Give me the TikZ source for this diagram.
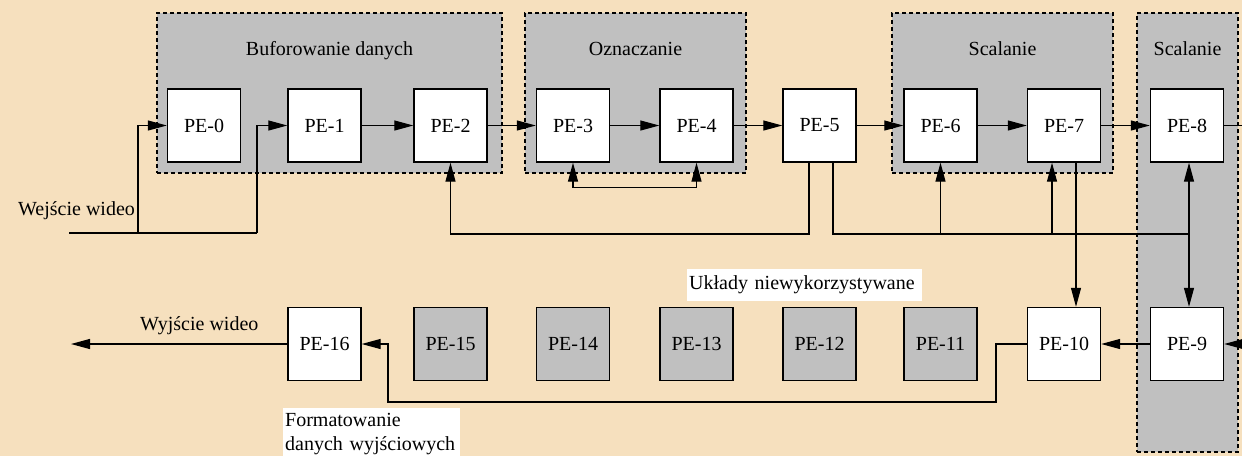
\documentclass[tikz,border=0pt]{standalone}
\usepackage{fontspec}
\setmainfont{Liberation Serif}
\usetikzlibrary{arrows.meta}
\definecolor{parch}{RGB}{246,224,190}
\definecolor{grp}{RGB}{192,192,192}
\tikzset{
  every node/.style={font=\fontsize{20}{24}\selectfont},
  pe/.style={draw=black, line width=1.4pt, fill=white, minimum size=73pt, inner sep=0pt},
  peu/.style={pe, fill=grp},
  grpbox/.style={draw=black, line width=1.4pt, dash pattern=on 4pt off 3pt, fill=grp, inner sep=0pt},
  ttl/.style={anchor=base, inner sep=0pt},
  lbl/.style={anchor=base west, inner sep=0pt},
  wlbl/.style={fill=white, anchor=north west, align=left, inner xsep=2pt},
  conn/.style={line width=1.2pt},
  arr/.style={conn, -{Triangle[length=19pt,width=10pt]}},
  darr/.style={conn, {Triangle[length=19pt,width=10pt]}-{Triangle[length=19pt,width=10pt]}}
}
\begin{document}
\begin{tikzpicture}[x=1pt,y=-1pt]
\useasboundingbox (0,0) rectangle (1242,456);
\fill[parch] (0,0) rectangle (1242,456);

% groups
\node[grpbox, minimum width=345pt, minimum height=160pt] (g1) at (329.5,93) {};
\node[grpbox, minimum width=221pt, minimum height=160pt] (g2) at (635.5,93) {};
\node[grpbox, minimum width=221pt, minimum height=160pt] (g3) at (1002.5,93) {};
\node[grpbox, minimum width=101pt, minimum height=439pt] (g4) at (1187.5,232.5) {};
\node[ttl] (t1) at (329.5,55) {Buforowanie danych};
\node[ttl] (t2) at (635.5,55) {Oznaczanie};
\node[ttl] (t3) at (1002.5,55) {Scalanie};
\node[ttl] (t4) at (1187.5,55) {Scalanie};

% processing elements
\node[pe] (p0) at (204,125.5) {PE-0};
\node[pe] (p1) at (324.5,125.5) {PE-1};
\node[pe] (p2) at (450.5,125.5) {PE-2};
\node[pe] (p3) at (573,125.5) {PE-3};
\node[pe] (p4) at (696.5,125.5) {PE-4};
\node[pe] (p5) at (819.5,125.5) {PE-5};
\node[pe] (p6) at (940.5,125.5) {PE-6};
\node[pe] (p7) at (1064,125.5) {PE-7};
\node[pe] (p8) at (1187,125.5) {PE-8};
\node[pe] (p9) at (1187,344) {PE-9};
\node[pe] (p10) at (1064,344) {PE-10};
\node[peu] (p11) at (940.5,344) {PE-11};
\node[peu] (p12) at (819.5,344) {PE-12};
\node[peu] (p13) at (696.5,344) {PE-13};
\node[peu] (p14) at (573,344) {PE-14};
\node[peu] (p15) at (450.5,344) {PE-15};
\node[pe] (p16) at (324.5,344) {PE-16};

% labels
\node[lbl] (lin) at (18,215) {Wejście wideo};
\node[lbl] (lout) at (140,330) {Wyjście wideo};
\node[wlbl, text width=231pt, inner ysep=3pt, text height=17pt, text depth=9pt] (lunused) at (687,269) {Układy niewykorzystywane};
\node[wlbl, text width=173pt, inner ysep=5pt, font=\fontsize{20}{24}\selectfont] (lfmt) at (283,408) {Formatowanie\\danych wyjściowych};

% coordinates
\coordinate (inL) at (69,233);
\coordinate (inA) at (138,233);
\coordinate (inB) at (257,233);
\coordinate (r5a) at (809,234);
\coordinate (r5b) at (833,234);
\coordinate (j8) at (1189,234);
\coordinate (b7) at (1052,234);
\coordinate (d7) at (1076,234);
\coordinate (t1c) at (996,402);
\coordinate (t2c) at (388,402);
\coordinate (out) at (71,344);
\coordinate (e8) at (1250,125.5);
\coordinate (e9) at (1250,344);

% connectors
\draw[conn] (inL) -- (inB);
\draw[arr] (inA) |- (p0.west);
\draw[arr] (inB) |- (p1.west);
\draw[arr] (p1) -- (p2);
\draw[arr] (p2) -- (p3);
\draw[arr] (p3) -- (p4);
\draw[arr] (p4) -- (p5);
\draw[arr] (p5) -- (p6);
\draw[arr] (p6) -- (p7);
\draw[arr] (p7) -- (p8);
\draw[conn] (p8.east) -- (e8);
\draw[darr] (p3.south) -- ++(0,25) -| (p4.south);
\draw[arr] (p5.south -| r5a) -- (r5a) -| (p2.south);
\draw[conn] (p5.south -| r5b) -- (r5b) -- (j8);
\draw[arr] (p6.south |- j8) -- (p6.south);
\draw[arr] (b7) -- (b7 |- p7.south);
\draw[darr] (p8.south -| j8) -- (p9.north -| j8);
\draw[arr] (p7.south -| d7) -- (p10.north -| d7);
\draw[arr] (e9) -- (p9.east);
\draw[arr] (p9.west) -- (p10.east);
\draw[arr] (p10.west) -| (t1c) -- (t2c) |- (p16.east);
\draw[arr] (p16.west) -- (out);
\end{tikzpicture}
\end{document}
